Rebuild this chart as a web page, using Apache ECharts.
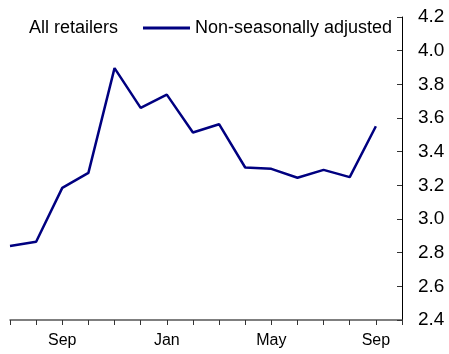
<!DOCTYPE html>
<html><head><meta charset="utf-8">
<script src="https://cdn.jsdelivr.net/npm/echarts@6/dist/echarts.min.js"></script>
<style>html,body{margin:0;padding:0;background:#fff}#c{width:449px;height:354px}</style>
</head><body><div id="c"></div>
<script>
const months = ['Jul','Aug','Sep','Oct','Nov','Dec','Jan','Feb','Mar','Apr','May','Jun','Jul','Aug','Sep','Oct'];
const values = [2.84, 2.865, 3.185, 3.274, 3.896, 3.66, 3.739, 3.514, 3.563, 3.306, 3.298, 3.245, 3.292, 3.249, 3.551];
const shownLabels = [2, 6, 10, 14];
const seriesName = 'Non-seasonally adjusted';
const titleText = 'All retailers';

const chart = echarts.init(document.getElementById('c'), null, {renderer: 'canvas'});
chart.setOption({
  animation: false,
  textStyle: {fontFamily: 'Liberation Sans, Arial, sans-serif'},
  title: {text: titleText, left: 24, top: 14, textStyle: {fontSize: 18, fontWeight: 'normal', color: '#000'}},
  legend: {
    data: [seriesName], left: 143, top: 19, padding: 0, itemWidth: 47, itemHeight: 3, itemGap: 4,
    icon: 'rect',
    textStyle: {fontSize: 18, color: '#000'}
  },
  grid: {left: 10, right: 47, top: 17, bottom: 34},
  xAxis: {
    type: 'category', data: months, boundaryGap: false,
    axisLine: {lineStyle: {color: '#555', width: 1.5}},
    axisTick: {interval: 0, length: 5, lineStyle: {color: '#333'}},
    axisLabel: {interval: (i) => shownLabels.includes(i), fontSize: 16, color: '#000', margin: 13},
    splitLine: {show: false}
  },
  yAxis: {
    type: 'value', position: 'right', min: 2.4, max: 4.2, interval: 0.2,
    axisLine: {show: true, lineStyle: {color: '#000', width: 1}},
    axisTick: {show: true, inside: true, length: 5, lineStyle: {color: '#333'}},
    axisLabel: {fontSize: 19, color: '#000', margin: 16, formatter: v => v.toFixed(1)},
    splitLine: {show: false}
  },
  series: [{
    name: seriesName, type: 'line', data: values, symbol: 'none',
    lineStyle: {color: '#000080', width: 2.5}, itemStyle: {color: '#000080'}
  }]
});
</script></body></html>
